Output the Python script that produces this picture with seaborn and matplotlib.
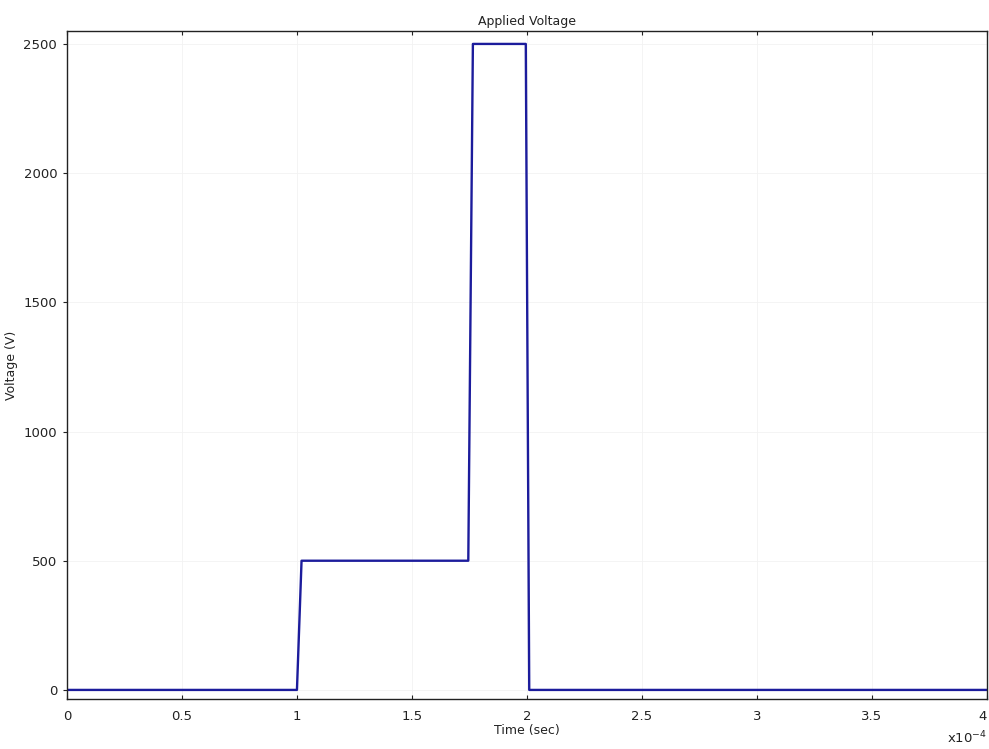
import matplotlib
matplotlib.use("Agg")
import matplotlib.pyplot as plt
import seaborn as sns
import pandas as pd
from matplotlib.ticker import FuncFormatter

time_s = [0.0, 1.0e-4, 1.02e-4, 1.745e-4, 1.765e-4, 1.995e-4, 2.01e-4, 4.0e-4]
voltage = [0, 0, 500, 500, 2500, 2500, 0, 0]

x_ticks = [0, 0.5e-4, 1e-4, 1.5e-4, 2e-4, 2.5e-4, 3e-4, 3.5e-4, 4e-4]
y_ticks = [0, 500, 1000, 1500, 2000, 2500]

df = pd.DataFrame({"t": time_s, "V": voltage})

sns.set_theme(style="white")
plt.rcParams['font.family'] = ['DejaVu Sans']

fig = plt.figure(figsize=(9.89, 7.49), dpi=100)
ax = fig.add_axes([0.0677, 0.0668, 0.9302, 0.8918])

sns.lineplot(data=df, x="t", y="V", estimator=None, sort=False,
             color="#1c1c9c", linewidth=1.7, ax=ax)

ax.set_xlim(0, 4e-4)
ax.set_ylim(-35, 2550)
ax.set_xticks(x_ticks)
ax.set_yticks(y_ticks)
ax.xaxis.set_major_formatter(FuncFormatter(lambda v, p: f"{v/1e-4:g}"))
ax.grid(True, color="#f2f2f2", linewidth=0.6)

for s in ax.spines.values():
    s.set_visible(True)
    s.set_color("#222222")
    s.set_linewidth(1.0)

ax.tick_params(axis="x", direction="in", length=3, width=0.8, labelsize=9.5,
               top=True, bottom=True, colors="#222222", pad=8)
ax.tick_params(axis="y", which="both", direction="out", length=3, width=0.8,
               labelsize=9.5, left=True, right=False, colors="#222222", pad=4)

ax.set_xlabel("Time (sec)", fontsize=9, labelpad=1, color="#222222")
ax.set_ylabel("Voltage (V)", fontsize=9, labelpad=4, color="#222222")
ax.set_title("Applied Voltage", fontsize=9, pad=4, color="#222222")

fig.canvas.draw()
xlabels = ax.get_xticklabels()
xlabels[-1].set_horizontalalignment("right")

fig.text(0.998, 0.004, r"x10$^{-4}$", ha="right", va="bottom", fontsize=9.5,
         color="#222222")

fig.savefig("out.png", dpi=100, facecolor="white")
